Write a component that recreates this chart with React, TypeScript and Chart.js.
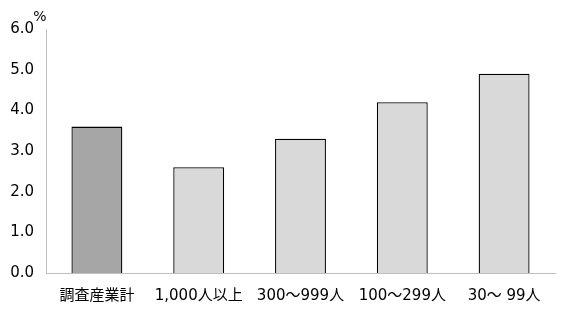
import React, { useEffect, useRef } from "react";
import { Chart, registerables } from "chart.js";

Chart.register(...registerables);

const categories = ["調査産業計", "1,000人以上", "300～999人", "100～299人", "30～ 99人"];
const values = [3.6, 2.6, 3.3, 4.2, 4.9];
const barColors = ["#a6a6a6", "#d9d9d9", "#d9d9d9", "#d9d9d9", "#d9d9d9"];
const yTicks = [0, 1, 2, 3, 4, 5, 6];
const unitLabel = "%";

const FONT = "'DejaVu Sans', 'Noto Sans CJK JP', sans-serif";

export default function App() {
  const ref = useRef<HTMLCanvasElement | null>(null);
  useEffect(() => {
    document.body.style.margin = "0";
    const unitPlugin = {
      id: "unitLabel",
      afterDraw(chart: any) {
        const { ctx, chartArea } = chart;
        ctx.save();
        ctx.font = `14px ${FONT}`;
        ctx.fillStyle = "#000";
        ctx.textAlign = "center";
        ctx.textBaseline = "middle";
        ctx.fillText(unitLabel, chartArea.left - 6, chartArea.top - 12);
        ctx.restore();
      },
    };
    const chart = new Chart(ref.current!, {
      type: "bar",
      data: {
        labels: categories,
        datasets: [
          {
            data: values,
            backgroundColor: barColors,
            borderColor: "#000",
            borderWidth: 1.3,
            barPercentage: 0.5,
            categoryPercentage: 1,
          },
        ],
      },
      options: {
        animation: false,
        responsive: false,
        maintainAspectRatio: false,
        layout: { padding: { top: 29, right: 13, left: 0, bottom: 0 } },
        plugins: { legend: { display: false }, tooltip: { enabled: false } },
        scales: {
          x: {
            grid: { display: false, drawTicks: false },
            border: { color: "#bfbfbf", width: 1 },
            ticks: { color: "#000", font: { family: FONT, size: 15 }, padding: 14, maxRotation: 0, autoSkip: false },
            afterFit(scale: any) {
              scale.height = 43;
            },
          },
          y: {
            min: yTicks[0],
            max: yTicks[yTicks.length - 1],
            grid: { display: false, drawTicks: false },
            border: { color: "#bfbfbf", width: 1 },
            afterBuildTicks(scale: any) {
              scale.ticks = yTicks.map((v) => ({ value: v }));
            },
            ticks: {
              color: "#000",
              font: { family: FONT, size: 15 },
              padding: 12,
              callback: (v: any) => Number(v).toFixed(1),
            },
            afterFit(scale: any) {
              scale.width = 46;
            },
          },
        },
      },
      plugins: [unitPlugin],
    });
    return () => chart.destroy();
  }, []);
  return <canvas ref={ref} width={568} height={316} style={{ display: "block" }} />;
}
